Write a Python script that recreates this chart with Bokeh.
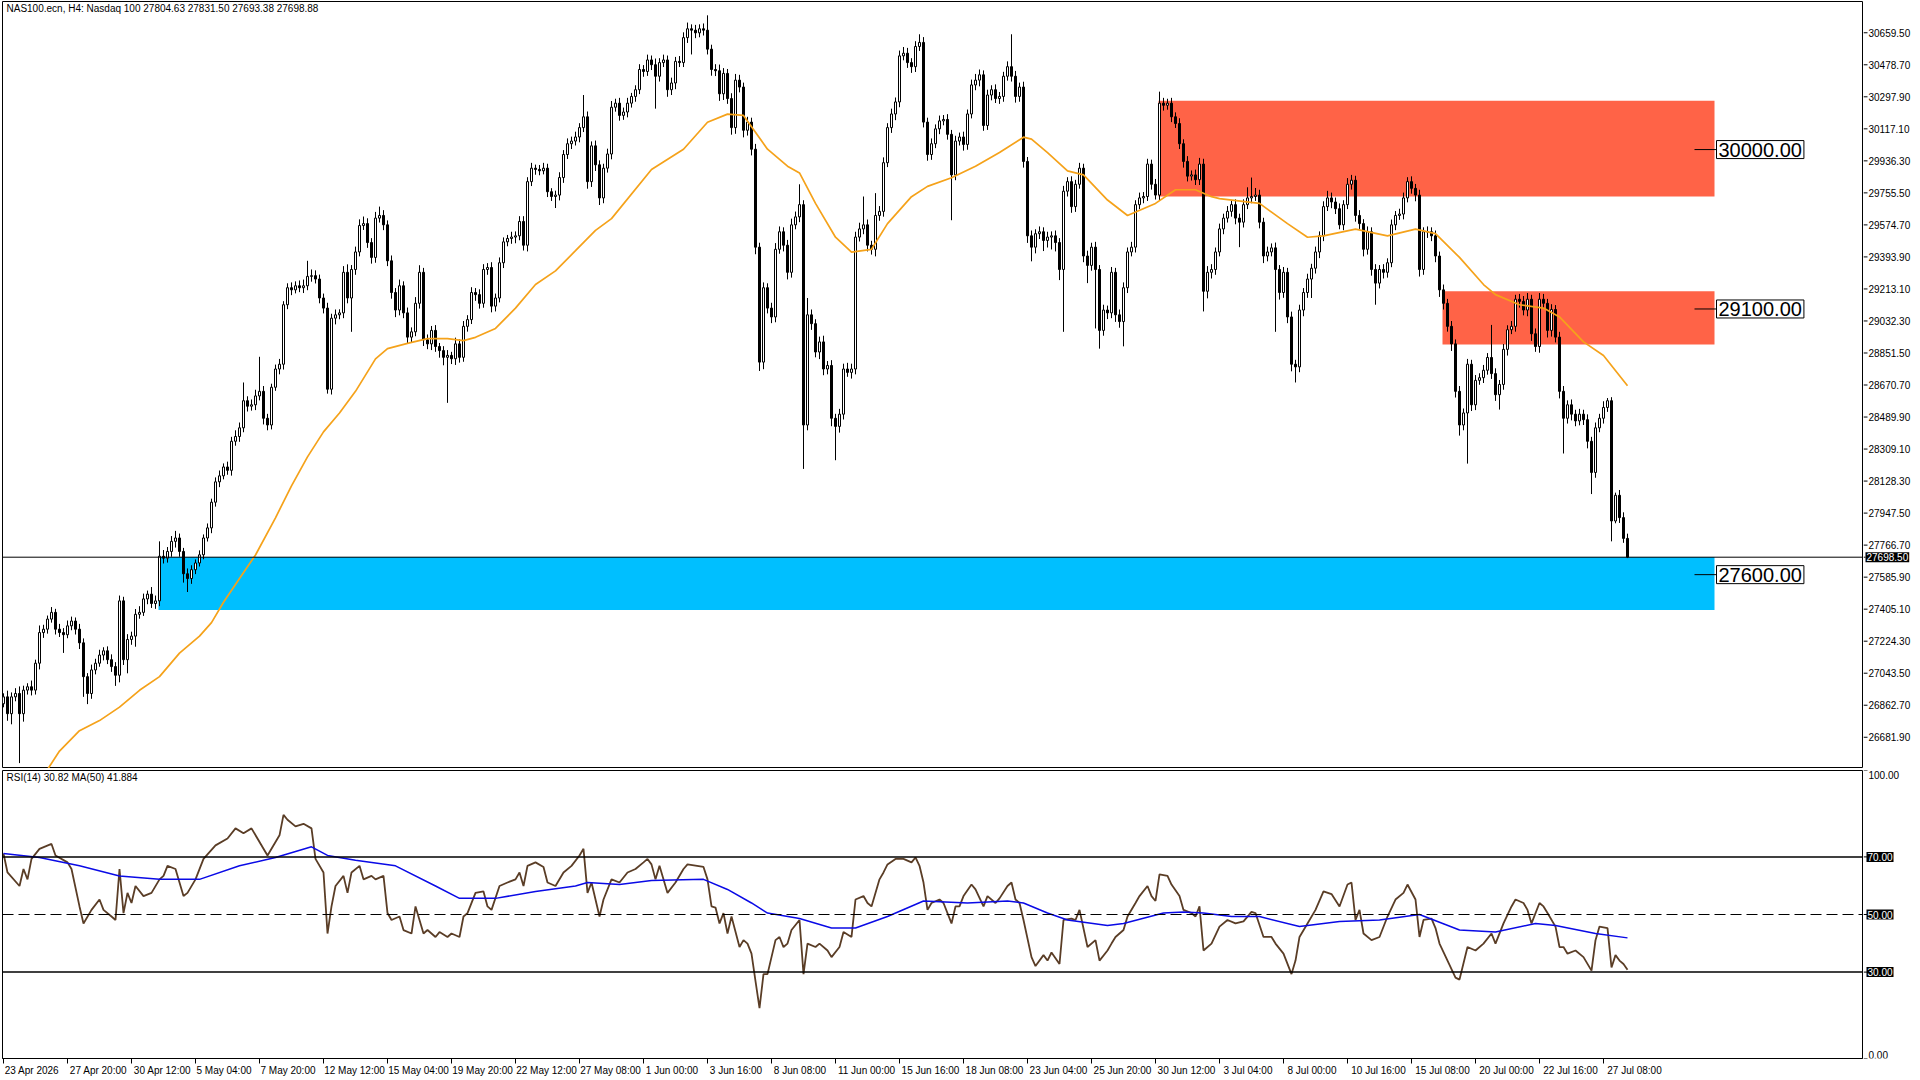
from bokeh.plotting import figure
from bokeh.layouts import column, row
from bokeh.models import Range1d, FixedTicker, Span, Label, ColumnDataSource
from bokeh.core.properties import value
from bokeh.embed import file_html
from bokeh.resources import INLINE

FONT = "Liberation Sans"
FS = "10px"

header_text = "NAS100.ecn, H4:  Nasdaq 100  27804.63 27831.50 27693.38 27698.88"
rsi_text = "RSI(14) 30.82 MA(50) 41.884"

first_open = 26871.0
close = [
    26910, 26815, 26910, 26929, 26815, 26948, 26967, 26948, 27100, 27273,
    27292, 27349, 27387, 27292, 27273, 27261, 27311, 27338, 27292, 27215,
    27024, 26929, 27062, 27100, 27146, 27170, 27120, 27081, 27032, 27452,
    27120, 27234, 27253, 27376, 27387, 27463, 27490, 27437, 27452, 27704,
    27693, 27731, 27788, 27807, 27731, 27605, 27578, 27628, 27666, 27712,
    27807, 27864, 28009, 28124, 28158, 28208, 28189, 28353, 28380, 28429,
    28582, 28551, 28559, 28609, 28635, 28483, 28445, 28658, 28761, 28788,
    29124, 29220, 29208, 29231, 29220, 29231, 29284, 29288, 29269, 29162,
    29105, 28647, 29048, 29067, 29078, 29307, 29162, 29323, 29422, 29571,
    29582, 29475, 29391, 29613, 29628, 29575, 29372, 29193, 29094, 29231,
    29078, 28941, 28971, 29132, 29307, 28926, 28903, 28979, 28888, 28865,
    28827, 28838, 28819, 28903, 28827, 29002, 29040, 29193, 29181, 29132,
    29323, 29334, 29116, 29162, 29361, 29479, 29498, 29506, 29513, 29594,
    29460, 29819, 29895, 29888, 29880, 29895, 29762, 29735, 29743, 29842,
    29972, 30033, 30048, 30071, 30124, 30185, 29819, 30021, 29914, 29727,
    29895, 29975, 30239, 30262, 30193, 30212, 30262, 30300, 30338, 30452,
    30441, 30506, 30479, 30414, 30491, 30506, 30338, 30376, 30498, 30491,
    30632, 30682, 30674, 30659, 30682, 30674, 30567, 30452, 30445, 30315,
    30430, 30288, 30124, 30392, 30353, 30109, 30155, 30002, 29449, 28800,
    29220, 29105, 29055, 29437, 29536, 29460, 29307, 29575, 29620, 29689,
    28445, 29067, 29017, 28857, 28914, 28761, 28781, 28483, 28437, 28506,
    28761, 28742, 28761, 29506, 29552, 29575, 29460, 29437, 29628, 29651,
    29926, 30124, 30201, 30269, 30529, 30544, 30491, 30468, 30582, 30605,
    30155, 29972, 30033, 30117, 30162, 30170, 30086, 29857, 30048, 30071,
    30029, 30201, 30365, 30392, 30422, 30136, 30308, 30338, 30288, 30300,
    30414, 30468, 30414, 30300, 30353, 29933, 29513, 29449, 29525, 29536,
    29487, 29506, 29513, 29475, 29323, 29765, 29819, 29678, 29804, 29895,
    29399, 29346, 29449, 29323, 28979, 29094, 29078, 29307, 29067, 29029,
    29220, 29422, 29449, 29689, 29727, 29735, 29918, 29804, 29743, 30262,
    30250, 30262, 30185, 30147, 30033, 29933, 29850, 29857, 29830, 29918,
    29200, 29307, 29323, 29422, 29552, 29613, 29651, 29689, 29613, 29590,
    29689, 29727, 29735, 29743, 29590, 29399, 29422, 29445, 29323, 29193,
    29307, 29055, 28788, 28773, 29094, 29193, 29269, 29330, 29422, 29513,
    29678, 29727, 29704, 29666, 29575, 29689, 29804, 29827, 29628, 29582,
    29437, 29536, 29323, 29246, 29323, 29307, 29361, 29575, 29628, 29636,
    29727, 29819, 29781, 29743, 29323, 29536, 29536, 29513, 29399, 29208,
    29132, 29002, 28903, 28635, 28445, 28513, 28788, 28559, 28697, 28712,
    28754, 28826, 28735, 28616, 28674, 28872, 28983, 29002, 29155, 29143,
    29094, 29155, 28960, 28888, 29155, 29132, 28979, 29097, 28941, 28635,
    28483, 28559, 28506, 28468, 28506, 28475, 28353, 28177, 28429, 28483,
    28544, 28582, 27903, 28048, 27922, 27804.63, 27698.88,
]
upper_wick = [
    20, 35, 25, 30, 40, 25, 20, 35, 20, 40,
    25, 20, 30, 20, 30, 25, 30, 25, 20, 30,
    25, 20, 30, 25, 30, 20, 25, 30, 25, 30,
    23, 30, 25, 30, 35, 30, 20, 40, 30, 84,
    35, 25, 30, 40, 25, 20, 30, 25, 20, 25,
    20, 25, 20, 25, 30, 20, 30, 25, 35, 30,
    103, 25, 30, 35, 195, 30, 25, 20, 25, 30,
    20, 25, 30, 25, 30, 35, 88, 35, 30, 25,
    25, 30, 25, 30, 20, 35, 45, 25, 30, 35,
    40, 30, 25, 35, 50, 30, 25, 30, 25, 35,
    25, 30, 25, 35, 40, 25, 30, 25, 30, 20,
    25, 30, 20, 35, 25, 30, 25, 30, 25, 30,
    30, 25, 30, 25, 30, 25, 20, 30, 25, 30,
    30, 25, 30, 20, 25, 30, 25, 20, 25, 30,
    25, 30, 25, 30, 25, 123, 30, 25, 30, 25,
    25, 30, 35, 25, 30, 25, 30, 20, 25, 30,
    25, 30, 25, 35, 25, 30, 25, 30, 25, 30,
    30, 35, 25, 30, 25, 30, 84, 25, 30, 35,
    30, 25, 30, 35, 30, 25, 30, 25, 30, 25,
    30, 25, 30, 35, 30, 25, 30, 35, 30, 115,
    25, 95, 30, 25, 30, 35, 25, 30, 25, 30,
    30, 35, 30, 30, 35, 160, 30, 25, 126, 30,
    30, 25, 30, 25, 30, 35, 30, 25, 30, 46,
    30, 25, 30, 25, 30, 25, 30, 25, 30, 25,
    30, 25, 30, 35, 30, 25, 30, 25, 30, 25,
    25, 30, 183, 30, 25, 30, 25, 30, 25, 30,
    25, 30, 25, 30, 25, 30, 25, 30, 25, 30,
    25, 30, 25, 30, 25, 30, 25, 30, 25, 30,
    30, 25, 30, 25, 30, 25, 30, 25, 30, 65,
    30, 25, 30, 25, 30, 25, 30, 25, 30, 35,
    30, 35, 30, 25, 30, 25, 30, 25, 30, 25,
    30, 60, 107, 40, 30, 25, 30, 25, 30, 25,
    30, 25, 30, 25, 30, 25, 30, 25, 30, 25,
    30, 40, 30, 25, 30, 25, 35, 30, 25, 30,
    25, 30, 25, 30, 25, 30, 25, 30, 25, 30,
    30, 25, 30, 25, 30, 25, 30, 25, 30, 25,
    30, 25, 30, 25, 30, 25, 30, 25, 30, 25,
    30, 25, 184, 30, 25, 30, 25, 30, 25, 30,
    30, 35, 25, 30, 35, 30, 25, 30, 25, 30,
    30, 25, 30, 25, 30, 25, 30, 25, 30, 25,
    35, 15, 20, 15, 30, 30, 26.87,
]
lower_wick = [
    20, 40, 60, 25, 279, 45, 25, 30, 25, 35,
    30, 25, 20, 30, 25, 103, 20, 25, 30, 35,
    114, 60, 30, 25, 20, 30, 25, 30, 60, 40,
    30, 77, 30, 60, 25, 20, 30, 25, 30, 30,
    30, 25, 30, 35, 30, 50, 76, 30, 25, 20,
    25, 20, 30, 25, 30, 20, 25, 30, 25, 30,
    25, 30, 25, 30, 25, 35, 30, 25, 20, 30,
    30, 25, 30, 20, 25, 30, 25, 30, 25, 30,
    30, 25, 30, 35, 25, 30, 30, 191, 30, 25,
    25, 30, 35, 30, 25, 30, 30, 35, 40, 30,
    30, 35, 30, 25, 30, 35, 30, 35, 30, 40,
    45, 257, 30, 35, 30, 25, 30, 25, 35, 30,
    25, 30, 35, 30, 25, 30, 25, 30, 35, 25,
    30, 35, 25, 30, 25, 20, 30, 25, 65, 30,
    30, 25, 30, 25, 30, 25, 40, 30, 35, 40,
    30, 25, 30, 25, 30, 25, 30, 25, 30, 25,
    30, 25, 30, 183, 30, 25, 40, 30, 35, 25,
    25, 30, 137, 30, 25, 30, 30, 35, 30, 40,
    35, 30, 40, 35, 30, 40, 30, 35, 40, 50,
    40, 30, 35, 30, 25, 35, 40, 30, 25, 30,
    248, 30, 35, 30, 40, 35, 30, 45, 191, 35,
    30, 25, 35, 30, 25, 30, 35, 30, 40, 30,
    30, 25, 30, 35, 30, 25, 30, 35, 30, 25,
    30, 35, 30, 25, 30, 25, 30, 256, 30, 25,
    35, 30, 25, 30, 35, 30, 25, 30, 25, 30,
    30, 25, 30, 35, 30, 35, 40, 80, 35, 30,
    60, 40, 70, 50, 60, 352, 30, 35, 30, 25,
    35, 100, 30, 333, 103, 30, 35, 30, 40, 35,
    140, 30, 25, 30, 25, 30, 25, 30, 25, 30,
    30, 25, 30, 25, 30, 35, 30, 25, 30, 30,
    114, 40, 35, 30, 25, 30, 25, 30, 35, 141,
    30, 25, 30, 25, 35, 40, 30, 25, 352, 40,
    30, 35, 40, 88, 30, 35, 30, 107, 30, 35,
    30, 25, 35, 30, 25, 30, 25, 30, 35, 30,
    40, 30, 35, 122, 30, 35, 30, 25, 30, 25,
    30, 25, 30, 35, 40, 30, 35, 30, 35, 40,
    35, 30, 40, 35, 60, 30, 286, 35, 30, 25,
    30, 25, 30, 35, 84, 30, 35, 25, 30, 35,
    30, 35, 40, 30, 35, 30, 40, 35, 30, 40,
    199, 30, 35, 30, 25, 30, 40, 122, 30, 25,
    30, 25, 115, 13, 30, 25, 5.5,
]

# orange MA(50) on price, read at bar positions
ma_bar = [11, 14, 19, 24, 29, 34, 39, 44, 49, 52, 55, 59, 63, 68, 72, 76, 80, 84, 88, 93,
          96, 101, 106, 111, 115, 118, 123, 128, 133, 138, 143, 148, 152, 162, 170, 176, 181, 185, 191, 196,
          199, 203, 208, 212, 217, 221, 227, 231, 237, 243, 249, 255, 257, 261, 266, 270, 276, 281, 288, 293,
          298, 302, 304, 314, 321, 326, 330, 338, 346, 353, 358, 364, 370, 373, 379, 385, 389, 395, 400, 406]
ma_value = [26500, 26604, 26719, 26776, 26852, 26947, 27024, 27157, 27253, 27329, 27444, 27578, 27711, 27921, 28101, 28265, 28406, 28513, 28635, 28818,
            28876, 28906, 28933, 28933, 28921, 28940, 28990, 29105, 29238, 29315, 29429, 29544, 29610, 29887, 30002, 30154, 30200, 30193, 30002, 29906,
            29868, 29696, 29505, 29421, 29437, 29582, 29734, 29792, 29841, 29906, 29983, 30070, 30059, 29983, 29880, 29857, 29715, 29628, 29696, 29773,
            29773, 29734, 29723, 29696, 29582, 29505, 29513, 29551, 29513, 29551, 29525, 29391, 29238, 29181, 29124, 29105, 29055, 28914, 28837, 28666]

rsi_bar = [0, 1, 4, 5, 6, 7, 9, 12, 13, 16, 17, 19, 20, 22, 24, 25, 27, 28, 29, 30,
           31, 32, 33, 35, 37, 39, 40, 41, 43, 45, 46, 48, 50, 53, 56, 58, 60, 62, 66, 68,
           69, 70, 71, 73, 75, 77, 78, 80, 81, 82, 83, 85, 86, 87, 89, 90, 92, 93, 95, 96,
           97, 99, 100, 102, 103, 105, 106, 108, 109, 111, 112, 114, 115, 116, 118, 120, 121, 122, 124, 126,
           128, 129, 130, 131, 133, 135, 136, 138, 140, 142, 144, 145, 146, 147, 149, 150, 152, 154, 156, 158,
           160, 161, 162, 163, 164, 166, 168, 170, 171, 175, 176, 177, 178, 179, 180, 181, 182, 184, 185, 186,
           187, 188, 189, 190, 191, 193, 194, 195, 196, 197, 199, 200, 201, 203, 204, 206, 207, 209, 210, 212,
           213, 215, 216, 217, 219, 220, 221, 223, 225, 227, 228, 229, 230, 231, 232, 234, 235, 237, 238, 239,
           240, 242, 243, 245, 246, 248, 249, 251, 252, 253, 254, 255, 257, 258, 260, 261, 262, 264, 265, 267,
           268, 269, 271, 273, 274, 276, 277, 278, 280, 281, 283, 284, 286, 287, 288, 289, 291, 292, 294, 295,
           297, 298, 299, 300, 302, 304, 306, 308, 310, 312, 313, 315, 317, 318, 320, 322, 323, 324, 326, 328,
           330, 332, 334, 336, 337, 338, 339, 340, 342, 344, 346, 348, 350, 351, 353, 354, 355, 357, 358, 359,
           361, 363, 364, 366, 368, 370, 372, 373, 375, 377, 378, 380, 381, 382, 384, 385, 386, 388, 389, 390,
           391, 393, 395, 397, 398, 399, 401, 402, 403, 404, 405, 406]
rsi_value = [71.2, 64.6, 59.9, 65.8, 62.2, 69.3, 72.8, 74.5, 70.5, 68.1, 65.8, 52.8, 46.9, 51.6, 55.2, 51.6, 49.3, 48.1, 65.8, 50.5,
             57.5, 54.0, 59.9, 56.4, 57.5, 62.2, 63.4, 66.9, 65.8, 56.4, 57.5, 62.2, 69.3, 74.0, 76.4, 79.9, 78.2, 79.9, 70.5, 75.2,
             77.5, 84.6, 82.9, 80.6, 81.5, 79.9, 69.3, 64.6, 43.4, 52.8, 59.9, 63.4, 57.5, 64.6, 66.9, 62.2, 63.4, 62.2, 63.4, 50.5,
             48.1, 49.3, 44.6, 43.4, 52.8, 43.4, 44.6, 42.2, 43.9, 42.2, 43.4, 42.2, 49.3, 50.5, 57.5, 58.0, 52.8, 51.6, 59.9, 61.1,
             62.2, 64.6, 59.9, 66.9, 68.1, 66.5, 61.1, 59.9, 64.6, 66.9, 70.5, 72.8, 57.5, 61.1, 49.3, 55.2, 62.2, 61.1, 64.6, 65.8,
             68.1, 69.3, 67.4, 62.2, 66.9, 57.5, 61.1, 65.8, 67.4, 66.5, 62.2, 52.8, 52.4, 46.9, 50.5, 43.4, 49.3, 38.7, 41.1, 39.9,
             36.4, 26.9, 17.5, 29.3, 29.3, 41.1, 42.2, 38.7, 39.9, 44.6, 48.1, 29.3, 39.9, 38.7, 39.9, 37.5, 35.2, 38.7, 43.9, 42.2,
             55.2, 56.4, 54.0, 52.8, 62.2, 64.6, 67.4, 69.3, 69.3, 68.1, 69.8, 66.9, 61.1, 51.6, 54.0, 55.2, 54.0, 46.9, 52.8, 52.8,
             56.4, 60.4, 58.7, 52.8, 56.4, 54.0, 55.6, 59.9, 61.1, 55.2, 54.0, 48.1, 35.2, 32.1, 35.9, 34.0, 36.8, 32.8, 48.1, 48.6,
             48.1, 51.6, 38.7, 41.1, 34.0, 37.5, 39.9, 42.2, 44.6, 49.3, 54.0, 56.4, 59.9, 56.4, 54.7, 63.9, 63.4, 60.4, 56.4, 51.6,
             50.5, 49.3, 52.8, 37.5, 39.9, 45.8, 48.1, 46.9, 47.6, 50.9, 50.5, 42.2, 42.2, 39.9, 36.4, 29.3, 34.0, 42.2, 46.9, 51.6,
             58.0, 57.1, 52.8, 60.4, 61.1, 48.1, 51.6, 43.4, 41.1, 42.2, 49.3, 55.2, 57.5, 60.4, 55.2, 42.2, 48.1, 48.6, 45.3, 39.9,
             34.0, 28.1, 27.4, 38.7, 37.5, 39.9, 43.4, 39.9, 46.9, 52.8, 55.2, 54.0, 51.6, 46.9, 54.0, 52.8, 50.5, 45.8, 38.7, 38.7,
             36.4, 37.5, 35.2, 30.5, 41.1, 45.8, 45.3, 31.6, 35.9, 34.0, 32.8, 30.82]

rsi_ma_bar = [0, 9, 19, 29, 39, 49, 59, 68, 77, 81, 88, 98, 108, 114, 123, 133, 143, 146, 154, 162,
              175, 181, 187, 191, 199, 207, 213, 221, 230, 241, 251, 255, 261, 266, 276, 280, 290, 295, 300, 307,
              314, 324, 334, 344, 354, 364, 373, 383, 388, 398, 406]
rsi_ma_value = [71.2, 69.8, 66.9, 63.4, 62.2, 62.2, 66.9, 69.8, 73.5, 70.5, 68.8, 66.9, 59.9, 55.6, 55.6, 58.0, 59.9, 61.1, 60.4, 61.8,
                62.2, 58.7, 54.0, 50.5, 48.6, 45.3, 45.3, 49.3, 54.7, 54.0, 54.7, 54.0, 50.5, 48.1, 46.2, 46.9, 50.5, 50.9, 50.5, 49.3,
                49.3, 45.8, 47.6, 48.1, 50.0, 44.6, 43.9, 46.9, 46.2, 43.4, 41.884]

price_ticks = [30659.50, 30478.70, 30297.90, 30117.10, 29936.30, 29755.50, 29574.70, 29393.90,
               29213.10, 29032.30, 28851.50, 28670.70, 28489.90, 28309.10, 28128.30, 27947.50,
               27766.70, 27585.90, 27405.10, 27224.30, 27043.50, 26862.70, 26681.90]
rsi_ticks = [100, 70, 50, 30, 0]

date_bars = [0, 16, 32, 48, 64, 80, 96, 112, 128, 144, 160, 176, 192, 208, 224, 240, 256,
             272, 288, 304, 320, 336, 352, 368, 384, 400]
date_labels = ["23 Apr 2026", "27 Apr 20:00", "30 Apr 12:00", "5 May 04:00", "7 May 20:00",
               "12 May 12:00", "15 May 04:00", "19 May 20:00", "22 May 12:00", "27 May 08:00",
               "1 Jun 00:00", "3 Jun 16:00", "8 Jun 08:00", "11 Jun 00:00", "15 Jun 16:00",
               "18 Jun 08:00", "23 Jun 04:00", "25 Jun 20:00", "30 Jun 12:00", "3 Jul 04:00",
               "8 Jul 00:00", "10 Jul 16:00", "15 Jul 08:00", "20 Jul 00:00", "22 Jul 16:00",
               "27 Jul 08:00"]

zone_start = [289, 360, 39]
zone_end = [428, 428, 428]
zone_top = [30275.0, 29200.0, 27700.0]
zone_bottom = [29735.0, 28900.0, 27400.0]
zone_color = ["#FF6347", "#FF6347", "#00BFFF"]
zone_level = [30000.0, 29100.0, 27600.0]

last_price = 27698.50
rsi_levels = [70, 50, 30]

assert len(close) == len(upper_wick) == len(lower_wick)
assert len(ma_bar) == len(ma_value)
assert len(rsi_bar) == len(rsi_value)
assert len(rsi_ma_bar) == len(rsi_ma_value)

# ---------------- derived OHLC ----------------
n = len(close)
opens = [first_open] + close[:-1]
highs = [max(o, c) + u for o, c, u in zip(opens, close, upper_wick)]
lows = [min(o, c) - w for o, c, w in zip(opens, close, lower_wick)]
src = ColumnDataSource(dict(
    x=list(range(n)), h=highs, l=lows,
    top=[max(o, c) for o, c in zip(opens, close)],
    bottom=[min(o, c) for o, c in zip(opens, close)],
    fill=["white" if c >= o else "black" for o, c in zip(opens, close)],
))

# ---------------- layout constants ----------------
W = 1920
FRAME_W = 1860
LEFT = 2
RIGHT_PAD = 1
STRIP_W = W - LEFT - FRAME_W - RIGHT_PAD   # price-scale column on the right
PX_PER_BAR = 4.0
x_range = Range1d(-0.25, -0.25 + FRAME_W / PX_PER_BAR)
main_y = Range1d(26505.5, 30836.0)
rsi_y = Range1d(0, 100)

H1, TOP1, BOT1 = 768, 1, 0
H2, TOP2, BOT2 = 312, 2, 22


def chart(height, y_range, top, bottom, x_axis):
    p = figure(width=LEFT + FRAME_W + RIGHT_PAD, height=height, x_range=x_range, y_range=y_range,
               output_backend="svg", toolbar_location=None,
               x_axis_location=("below" if x_axis else None), y_axis_location=None,
               min_border_left=LEFT, min_border_right=RIGHT_PAD,
               min_border_top=top, min_border_bottom=bottom,
               background_fill_color="white", border_fill_color="white",
               outline_line_color="black", outline_line_width=1)
    p.grid.visible = False
    return p


def scale_strip(height, y_range, top, bottom, ticks, labels, tick_values):
    s = figure(width=STRIP_W, height=height, x_range=Range1d(0, STRIP_W), y_range=y_range,
               output_backend="svg", toolbar_location=None,
               x_axis_location=None, y_axis_location=None,
               min_border_left=0, min_border_right=0,
               min_border_top=top, min_border_bottom=bottom,
               background_fill_color="white", border_fill_color="white",
               outline_line_color=None)
    s.grid.visible = False
    s.segment(x0=[0] * len(ticks), x1=[4] * len(ticks), y0=ticks, y1=ticks,
              line_color="black", line_width=1)
    if labels:
        s.text(x=[5] * len(labels), y=tick_values, text=labels,
               text_font=value(FONT), text_font_size=value(FS), text_color="black",
               text_align="left", text_baseline="middle")
    return s


def tag(x, y, text, baseline="middle", boxed=True):
    kw = dict(x=x, y=y, text=text, text_align="left", text_baseline=baseline,
              text_font=FONT, text_font_size=FS)
    if boxed:
        kw.update(text_color="white", background_fill_color="black", padding=1)
    else:
        kw.update(text_color="black")
    return Label(**kw)


# ---------------- main price panel ----------------
p1 = chart(H1, main_y, TOP1, BOT1, x_axis=False)

p1.quad(left=[s - 0.25 for s in zone_start], right=[e - 0.25 for e in zone_end],
        top=zone_top, bottom=zone_bottom, fill_color=zone_color, line_color=None)

p1.segment(x0="x", x1="x", y0="h", y1="l", source=src, line_color="black", line_width=1)
p1.vbar(x="x", width=0.5, top="top", bottom="bottom", source=src,
        fill_color="fill", line_color="black", line_width=1)

p1.line(ma_bar, ma_value, line_color="#F5A21A", line_width=1.7)

p1.add_layout(Span(location=last_price, dimension="width", line_color="black", line_width=1))

p1.segment(x0=[e - 5.25 for e in zone_end], x1=[e + 0.25 for e in zone_end],
           y0=zone_level, y1=zone_level, line_color="black", line_width=1)
for e, lv in zip(zone_end, zone_level):
    p1.add_layout(Label(x=e + 0.25, y=lv, text="%.2f" % lv, text_align="left",
                        text_baseline="middle", text_font="Liberation Sans",
                        text_font_size="20px", text_color="black",
                        background_fill_color="white", border_line_color="black",
                        border_line_width=1, padding=2))

p1.add_layout(Label(x=x_range.start + 1.0, y=main_y.end - 1.5 * 5.646, text=header_text,
                    text_align="left", text_baseline="top", text_font=FONT,
                    text_font_size=FS, text_color="black"))

s1 = scale_strip(H1, main_y, TOP1, BOT1, price_ticks,
                 ["%.2f" % t for t in price_ticks], price_ticks)
s1.segment(x0=[0], x1=[2], y0=[last_price], y1=[last_price], line_color="black", line_width=1)
s1.add_layout(tag(2, last_price, "%.2f" % last_price))

# ---------------- RSI panel ----------------
p2 = chart(H2, rsi_y, TOP2, BOT2, x_axis=True)

label_ticks = []
overrides = {}
for b, s in zip(date_bars, date_labels):
    off = (2 + 4.85 * len(s) / 2) / PX_PER_BAR
    t = b + round(off * 8) / 8
    label_ticks.append(t)
    overrides[t] = s
xa = p2.xaxis[0]
xa.ticker = FixedTicker(ticks=label_ticks, minor_ticks=date_bars)
xa.major_label_overrides = overrides
xa.major_tick_line_color = None
xa.major_tick_out = 5
xa.major_tick_in = 0
xa.minor_tick_line_color = "black"
xa.minor_tick_out = 5
xa.minor_tick_in = 0
xa.axis_line_color = "black"
xa.major_label_standoff = 1
xa.major_label_text_font = FONT
xa.major_label_text_font_size = FS
xa.major_label_text_color = "black"

for lv in rsi_levels:
    if lv == 50:
        p2.add_layout(Span(location=lv, dimension="width", line_color="black",
                           line_width=1, line_dash="11 5"))
    else:
        p2.add_layout(Span(location=lv, dimension="width", line_color="black", line_width=1.5))

p2.line(rsi_bar, rsi_value, line_color="#5A3D26", line_width=1.8)
p2.line(rsi_ma_bar, rsi_ma_value, line_color="#0A0AE6", line_width=1.5)

p2.add_layout(Label(x=x_range.start + 1.0, y=100 - 0.6, text=rsi_text, text_align="left",
                    text_baseline="top", text_font=FONT, text_font_size=FS,
                    text_color="black"))

s2 = scale_strip(H2, rsi_y, TOP2, BOT2, rsi_ticks, [], [])
for lv in rsi_levels:
    s2.add_layout(tag(3, lv, "%.2f" % lv))
s2.add_layout(tag(5, rsi_ticks[0], "%.2f" % rsi_ticks[0], baseline="top", boxed=False))
s2.add_layout(tag(5, rsi_ticks[-1], "%.2f" % rsi_ticks[-1], baseline="bottom", boxed=False))

layout = column(row(p1, s1, spacing=0), row(p2, s2, spacing=0), spacing=0)
open("out.html", "w").write(file_html(layout, INLINE))
